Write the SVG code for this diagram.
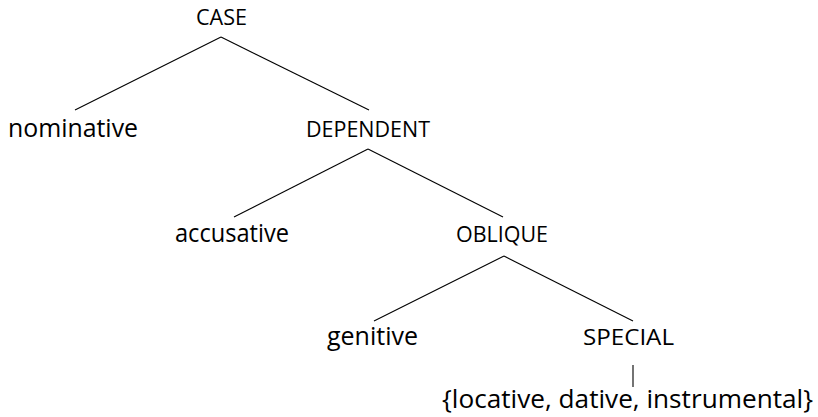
<svg xmlns="http://www.w3.org/2000/svg" width="818" height="417" viewBox="0 0 818 417">
<style>
.lc{font-family:"Open Sans","Noto Sans","Liberation Sans",sans-serif;font-size:25.5px;font-weight:500;fill:#000}
.sc{font-family:"Open Sans","Noto Sans","Liberation Sans",sans-serif;font-size:21.5px;font-weight:500;fill:#000}
.edge{stroke:#000;stroke-width:1.1;fill:none}
</style>
<rect width="818" height="417" fill="#fff"/>
<g id="connectors">
<line class="edge" x1="221" y1="37" x2="75" y2="110"/>
<line class="edge" x1="221" y1="37" x2="369" y2="110"/>
<line class="edge" x1="368" y1="149" x2="234" y2="217"/>
<line class="edge" x1="368" y1="149" x2="503" y2="217"/>
<line class="edge" x1="504" y1="256" x2="374" y2="321"/>
<line class="edge" x1="504" y1="256" x2="633" y2="321"/>
<line class="edge" x1="633" y1="365" x2="633" y2="387"/>
</g>
<g id="case"><text class="sc" x="196" y="25" textLength="51" lengthAdjust="spacingAndGlyphs">CASE</text></g>
<g id="nominative"><text class="lc" x="8" y="137" textLength="130" lengthAdjust="spacingAndGlyphs">nominative</text></g>
<g id="dependent"><text class="sc" x="306" y="137" textLength="124" lengthAdjust="spacingAndGlyphs">DEPENDENT</text></g>
<g id="accusative"><text class="lc" x="175" y="242" textLength="114" lengthAdjust="spacingAndGlyphs">accusative</text></g>
<g id="oblique"><text class="sc" x="456" y="242" textLength="92" lengthAdjust="spacingAndGlyphs">OBLIQUE</text></g>
<g id="genitive"><text class="lc" x="327" y="345" textLength="91" lengthAdjust="spacingAndGlyphs">genitive</text></g>
<g id="special"><text class="sc" x="583" y="345" textLength="91" lengthAdjust="spacingAndGlyphs">SPECIAL</text></g>
<g id="set"><text class="lc" x="442" y="408" textLength="371" lengthAdjust="spacingAndGlyphs">{locative, dative, instrumental}</text></g>
</svg>
